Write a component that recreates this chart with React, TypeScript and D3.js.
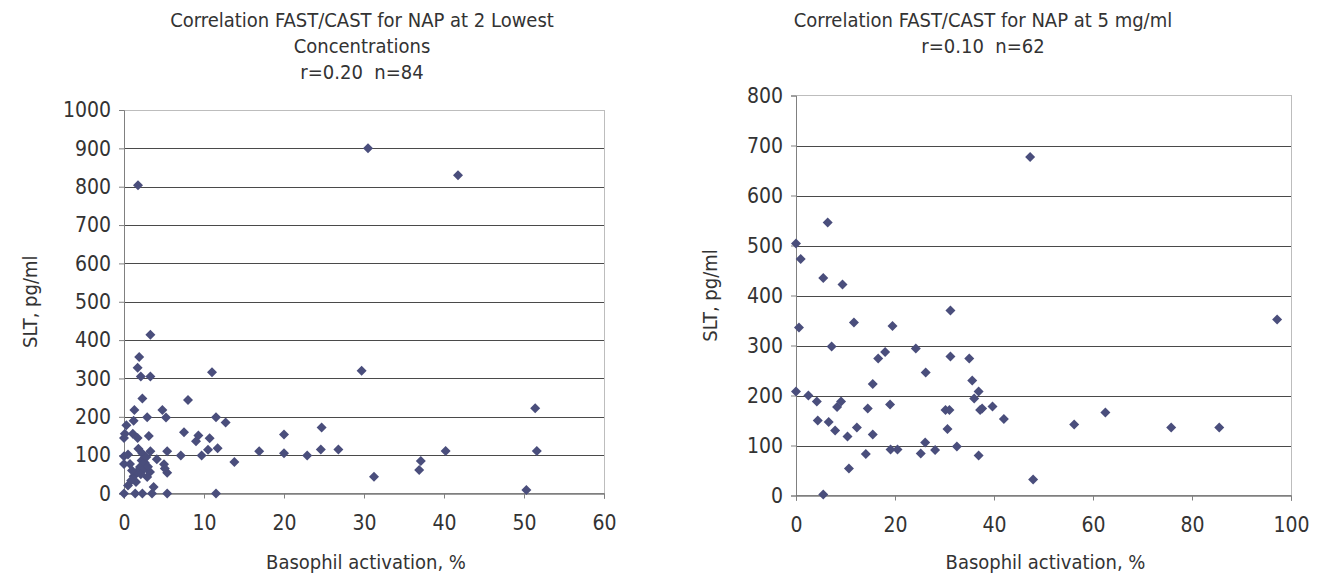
import React, { useEffect, useRef } from 'react';
import * as d3 from 'd3';

// [basophil activation %, SLT pg/ml]
const lowestConcPoints: [number, number][] = [
  [1.75, 804], [30.5, 900], [41.75, 830],
  [3.3, 414], [1.9, 356], [1.7, 328], [2.1, 305], [3.3, 305], [11.0, 316], [29.7, 320],
  [2.3, 248], [8.0, 244], [1.3, 218], [4.8, 218], [5.25, 198], [2.9, 199], [1.2, 190],
  [0.3, 178], [11.5, 199], [12.7, 185], [51.4, 222],
  [0.1, 156], [0, 145], [1.1, 156], [1.7, 145], [3.1, 150], [7.5, 160], [9.3, 151],
  [9.0, 136], [10.7, 144], [20.0, 154], [24.7, 172],
  [1.8, 117], [3.3, 110], [5.4, 110], [7.1, 99], [9.7, 99], [10.5, 114], [11.7, 118],
  [13.8, 82], [16.9, 110], [20.0, 105], [22.9, 99], [24.6, 115], [26.8, 115], [40.2, 111], [51.6, 111],
  [0, 97], [0.5, 102], [0, 77], [0.75, 77], [2.3, 104], [2.2, 86], [4.1, 89], [5.0, 76],
  [5.4, 54], [5.1, 65], [2.0, 69], [2.4, 62], [3.25, 56], [2.9, 43], [1.2, 45], [0.9, 34],
  [0.5, 21], [3.7, 17], [1.6, 56], [2.6, 80], [1.5, 30], [2.8, 95], [3.0, 70], [2.1, 50], [1.0, 60],
  [0, 0], [1.4, 0], [2.3, 0], [3.5, 0], [5.4, 0], [11.5, 0],
  [31.25, 44], [37.1, 85], [36.9, 61], [50.3, 9],
];

const fiveMgPoints: [number, number][] = [
  [47.3, 677], [6.4, 546], [0, 504], [0.95, 473], [5.5, 435], [9.4, 422], [0.6, 336],
  [11.7, 346], [19.5, 339], [31.2, 370], [7.2, 298], [24.2, 294], [18.0, 287], [16.6, 274],
  [31.2, 278], [35.0, 274], [26.2, 246], [15.5, 223], [35.6, 230], [0, 208], [36.9, 208],
  [36.0, 194], [2.5, 200], [4.2, 188], [8.3, 177], [9.1, 188], [19.0, 182], [14.5, 174],
  [30.2, 171], [31.0, 171], [37.2, 171], [37.6, 174], [39.7, 178], [42.0, 153], [56.2, 142],
  [62.5, 166], [75.8, 136], [85.5, 136], [97.2, 352], [4.4, 150], [6.6, 147], [7.9, 130],
  [10.4, 118], [12.3, 136], [15.5, 122], [14.1, 83], [10.7, 54], [19.1, 92], [20.5, 92],
  [25.2, 84], [26.1, 106], [28.1, 91], [30.6, 133], [32.5, 98], [36.9, 80], [47.9, 32], [5.5, 2],
];

const leftXTicks = [0, 10, 20, 30, 40, 50, 60];
const leftYTicks = [0, 100, 200, 300, 400, 500, 600, 700, 800, 900, 1000];
const rightXTicks = [0, 20, 40, 60, 80, 100];
const rightYTicks = [0, 100, 200, 300, 400, 500, 600, 700, 800];

const leftTitle = ['Correlation FAST/CAST for NAP at 2 Lowest', 'Concentrations', 'r=0.20  n=84'];
const rightTitle = ['Correlation FAST/CAST for NAP at 5 mg/ml', 'r=0.10  n=62'];

const FONT = '"Liberation Sans Narrow", "DejaVu Sans Condensed", "Arial Narrow", sans-serif';
const TEXT = '#333';

function drawChart(root: any, o: any) {
  const x = d3.scaleLinear().domain(d3.extent(o.xTicks) as any).range([o.left, o.right]);
  const y = d3.scaleLinear().domain(d3.extent(o.yTicks) as any).range([o.bottom, o.top]);
  const g = root.append('g');

  // plot frame (light) and horizontal gridlines (dark)
  g.append('rect')
    .attr('x', o.left).attr('y', o.top)
    .attr('width', o.right - o.left).attr('height', o.bottom - o.top)
    .attr('fill', 'white').attr('stroke', '#bdbdbd').attr('shape-rendering', 'crispEdges');

  g.selectAll('.grid')
    .data(o.yTicks.filter((d: number) => d > 0 && d < d3.max(o.yTicks)!))
    .join('line')
    .attr('x1', o.left).attr('x2', o.right)
    .attr('y1', (d: number) => Math.round(y(d)) + 0.5).attr('y2', (d: number) => Math.round(y(d)) + 0.5)
    .attr('stroke', '#4a4a4a');

  const yAxis = g.append('g')
    .attr('transform', `translate(${o.left},0)`)
    .call(d3.axisLeft(y).tickValues(o.yTicks).tickFormat(d3.format('d')).tickSize(5).tickPadding(8));
  yAxis.select('.domain').attr('stroke', '#808080');
  yAxis.selectAll('.tick line').attr('stroke', '#808080');

  const xAxis = g.append('g')
    .attr('transform', `translate(0,${o.bottom})`)
    .call(d3.axisBottom(x).tickValues(o.xTicks).tickFormat(d3.format('d')).tickSize(5).tickPadding(17));
  xAxis.select('.domain').attr('stroke', '#404040');
  xAxis.selectAll('.tick line').attr('stroke', '#808080');

  root.selectAll('.tick text')
    .attr('font-family', FONT).attr('font-size', 21).attr('fill', TEXT);

  g.selectAll('.pt')
    .data(o.points)
    .join('path')
    .attr('d', d3.symbol().type(d3.symbolSquare).size(50))
    .attr('transform', (d: [number, number]) => `translate(${x(d[0])},${y(d[1])}) rotate(45)`)
    .attr('fill', '#4a4e7c');

  const title = g.append('text')
    .attr('font-family', FONT).attr('font-size', 20).attr('fill', TEXT)
    .attr('text-anchor', 'middle').style('white-space', 'pre');
  o.title.forEach((line: string, i: number) => {
    title.append('tspan').attr('x', o.titleX).attr('y', 27 + i * 26).text(line);
  });

  g.append('text')
    .attr('font-family', FONT).attr('font-size', 20).attr('fill', TEXT)
    .attr('text-anchor', 'middle')
    .attr('x', (o.left + o.right) / 2 + 2).attr('y', 569)
    .text('Basophil activation, %');

  g.append('text')
    .attr('font-family', FONT).attr('font-size', 20).attr('fill', TEXT)
    .attr('text-anchor', 'middle')
    .attr('transform', `translate(${o.yTitleX},${(o.top + o.bottom) / 2}) rotate(-90)`)
    .text('SLT, pg/ml');
}

export default function App() {
  const ref = useRef<SVGSVGElement>(null);

  useEffect(() => {
    const svg = d3.select(ref.current);
    svg.selectAll('*').remove();
    drawChart(svg, {
      points: lowestConcPoints, xTicks: leftXTicks, yTicks: leftYTicks, title: leftTitle,
      left: 124, right: 604, top: 110, bottom: 493.5, titleX: 362, yTitleX: 37,
    });
    drawChart(svg, {
      points: fiveMgPoints, xTicks: rightXTicks, yTicks: rightYTicks, title: rightTitle,
      left: 796, right: 1291, top: 95.5, bottom: 495.5, titleX: 983, yTitleX: 717,
    });
  }, []);

  return (
    <svg
      ref={ref}
      width={1325}
      height={577}
      style={{ position: 'absolute', left: 0, top: 0, background: 'white' }}
    />
  );
}
